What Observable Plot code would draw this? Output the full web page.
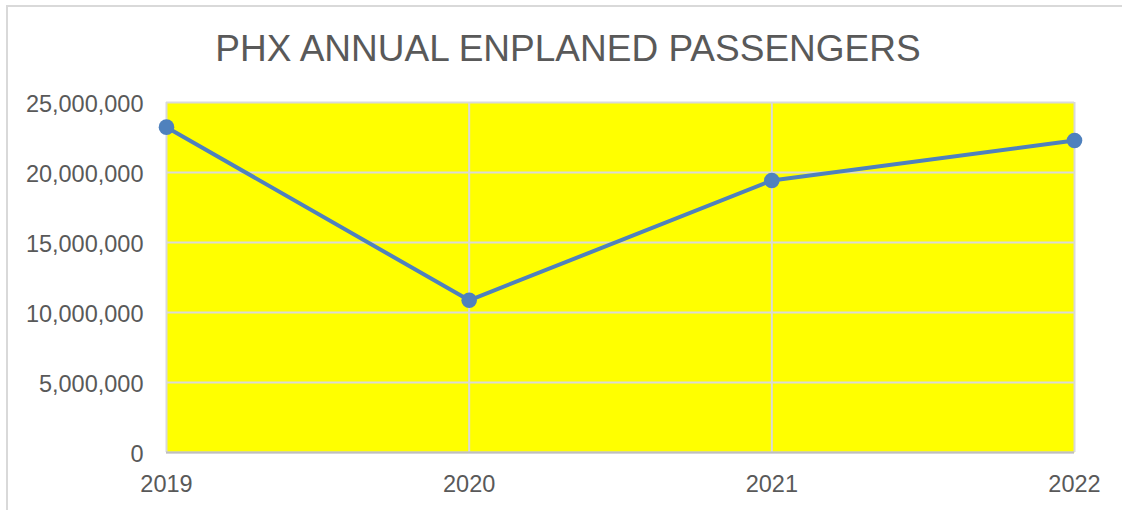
<!DOCTYPE html>
<html>
<head>
<meta charset="utf-8">
<script src="https://cdn.jsdelivr.net/npm/d3@7"></script>
<script src="https://cdn.jsdelivr.net/npm/@observablehq/plot@0.6"></script>
<style>
  html, body { margin: 0; padding: 0; background: #fff; }
  #wrap { position: relative; width: 1122px; height: 510px; overflow: hidden; font-family: "Liberation Sans", Arial, sans-serif; }
  #frame { position: absolute; left: 6px; top: 5px; width: 1300px; height: 700px; border-top: 2px solid #d9d9d9; border-left: 2px solid #d9d9d9; }
  #title { position: absolute; left: 14px; top: 30px; width: 1108px; text-align: center; font-size: 37px; line-height: 37px; color: #595959; white-space: nowrap; }
  #chart { position: absolute; left: 0; top: 75px; }
</style>
</head>
<body>
<div id="wrap">
  <div id="frame"></div>
  <div id="title">PHX ANNUAL ENPLANED PASSENGERS</div>
  <div id="chart"></div>
</div>
<script>
const years = [2019, 2020, 2021, 2022];
const passengers = [23240000, 10870000, 19430000, 22290000];
const yTicks = [0, 5000000, 10000000, 15000000, 20000000, 25000000];

const data = years.map((y, i) => ({year: y, value: passengers[i]}));
const lineColor = "#4f81bd";
const gridColor = "#d9d9d9";
const textColor = "#595959";

const chart = Plot.plot({
  width: 1122,
  height: 435,
  marginLeft: 166,
  marginRight: 48,
  marginTop: 27,
  marginBottom: 58,
  style: { fontFamily: '"Liberation Sans", Arial, sans-serif', fontSize: "23.5px", color: textColor, background: "transparent" },
  x: { domain: [2019, 2022], label: null },
  y: { domain: [0, 25000000], label: null },
  marks: [
    Plot.frame({ fill: "#ffff00", stroke: null }),
    Plot.gridY(yTicks, { stroke: gridColor, strokeOpacity: 1, strokeWidth: 2 }),
    Plot.gridX(years, { stroke: gridColor, strokeOpacity: 1, strokeWidth: 2 }),
    Plot.ruleY([0], { stroke: "#bfbfbf", strokeWidth: 2 }),
    Plot.axisY(yTicks, { tickSize: 0, tickPadding: 23, tickFormat: d3.format(","), fill: textColor, fontSize: 23.5, dy: 1.5 }),
    Plot.axisX(years, { tickSize: 0, tickPadding: 23, tickFormat: d => String(d), fill: textColor, fontSize: 23.5 }),
    Plot.line(data, { x: "year", y: "value", stroke: lineColor, strokeWidth: 4 }),
    Plot.dot(data, { x: "year", y: "value", r: 7.8, fill: lineColor, stroke: null })
  ]
});
document.getElementById("chart").appendChild(chart);
</script>
</body>
</html>
